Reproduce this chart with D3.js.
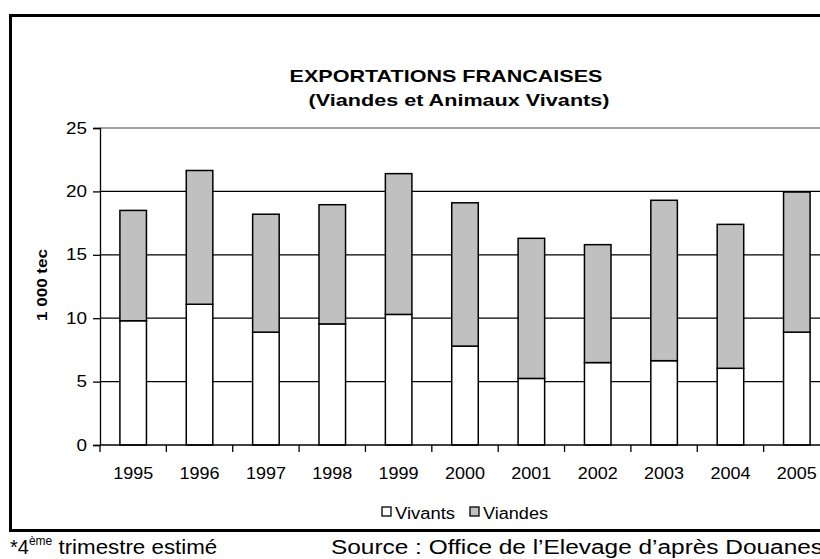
<!DOCTYPE html>
<html>
<head>
<meta charset="utf-8">
<script src="https://d3js.org/d3.v7.min.js"></script>
<style>
  body { margin: 0; background: #fff; }
  text { font-family: "Liberation Sans", Arial, sans-serif; }
</style>
</head>
<body>
<svg id="chart" width="820" height="559"></svg>
<script>
var years = ["1995", "1996", "1997", "1998", "1999", "2000", "2001", "2002", "2003", "2004", "2005"];
var vivants = [9.8, 11.1, 8.9, 9.55, 10.3, 7.8, 5.25, 6.5, 6.65, 6.05, 8.9];
var viandes = [8.7, 10.55, 9.3, 9.4, 11.1, 11.3, 11.05, 9.3, 12.65, 11.35, 11.05];
var yTicks = [0, 5, 10, 15, 20, 25];

var svg = d3.select("#chart");

// the text in the original is stretched sideways, so widths are forced with textLength
var plotLeft = 100, plotTop = 128, plotBottom = 445, plotRight = 830;

var data = years.map(function (y, i) {
    return { year: y, vivants: vivants[i], viandes: viandes[i] };
});

var xScale = d3.scaleBand().domain(years).range([plotLeft, plotRight]).paddingInner(0.6).paddingOuter(0.3),
    xTickScale = d3.scaleBand().domain(years).range([plotLeft, plotRight]),
    yScale = d3.scaleLinear().domain([0, 25]).range([plotBottom, plotTop]);

// outer frame (right side runs off the picture)
svg.append("rect")
    .attr("x", 10.5).attr("y", 15.5)
    .attr("width", 840).attr("height", 515)
    .attr("fill", "none").attr("stroke", "#000").attr("stroke-width", 3);

// title
svg.append("text")
    .attr("x", 446).attr("y", 82)
    .attr("text-anchor", "middle")
    .attr("font-size", "17px").attr("font-weight", "bold")
    .attr("textLength", 313).attr("lengthAdjust", "spacingAndGlyphs")
    .text("EXPORTATIONS FRANCAISES");
svg.append("text")
    .attr("x", 459).attr("y", 106)
    .attr("text-anchor", "middle")
    .attr("font-size", "17px").attr("font-weight", "bold")
    .attr("textLength", 301).attr("lengthAdjust", "spacingAndGlyphs")
    .text("(Viandes et Animaux Vivants)");

// gridlines
svg.append("g")
    .selectAll("line")
    .data(yTicks.filter(function (d) { return d > 0; }))
    .enter()
    .append("line")
    .attr("x1", plotLeft).attr("x2", 820)
    .attr("y1", function (d) { return yScale(d); })
    .attr("y2", function (d) { return yScale(d); })
    .attr("stroke", function (d) { return d == 25 ? "#808080" : "#000"; })
    .attr("stroke-width", 1.3);

// Y-Axis
var yAxis = svg.append("g")
    .attr("transform", "translate(" + plotLeft + ",0)")
    .call(d3.axisLeft(yScale).tickValues(yTicks).tickSize(7).tickPadding(6));
yAxis.select(".domain").attr("stroke-width", 1.3);
yAxis.selectAll(".tick line").attr("stroke-width", 1.3);
yAxis.selectAll("text")
    .attr("font-size", "16px")
    .attr("font-family", "Liberation Sans, Arial, sans-serif")
    .attr("textLength", function (d) { return d < 10 ? 10.5 : 21; })
    .attr("lengthAdjust", "spacingAndGlyphs");

svg.append("text")
    .attr("transform", "translate(47,285) rotate(-90)")
    .attr("text-anchor", "middle")
    .attr("font-size", "15px").attr("font-weight", "bold")
    .attr("textLength", 72).attr("lengthAdjust", "spacingAndGlyphs")
    .text("1 000 tec");

// BARS
var bars = svg.append("g").selectAll("g")
    .data(data)
    .enter()
    .append("g");

bars.append("rect")
    .attr("x", function (d) { return xScale(d.year); })
    .attr("width", xScale.bandwidth())
    .attr("y", function (d) { return yScale(d.vivants); })
    .attr("height", function (d) { return plotBottom - yScale(d.vivants); })
    .attr("fill", "#fff").attr("stroke", "#000").attr("stroke-width", 1.5);

bars.append("rect")
    .attr("x", function (d) { return xScale(d.year); })
    .attr("width", xScale.bandwidth())
    .attr("y", function (d) { return yScale(d.vivants + d.viandes); })
    .attr("height", function (d) { return yScale(d.vivants) - yScale(d.vivants + d.viandes); })
    .attr("fill", "#c0c0c0").attr("stroke", "#000").attr("stroke-width", 1.5);

// X-Axis
var xAxis = svg.append("g")
    .attr("transform", "translate(0," + plotBottom + ")");
xAxis.append("line")
    .attr("x1", plotLeft).attr("x2", 820)
    .attr("stroke", "#000").attr("stroke-width", 1.3);
xAxis.selectAll(".xt")
    .data(years)
    .enter()
    .append("line")
    .attr("x1", function (d) { return xTickScale(d); })
    .attr("x2", function (d) { return xTickScale(d); })
    .attr("y1", 0).attr("y2", 7)
    .attr("stroke", "#000").attr("stroke-width", 1.3);
xAxis.selectAll(".xl")
    .data(years)
    .enter()
    .append("text")
    .attr("x", function (d) { return xTickScale(d) + xTickScale.bandwidth() / 2; })
    .attr("y", 34)
    .attr("text-anchor", "middle")
    .attr("font-size", "16px")
    .attr("textLength", 40).attr("lengthAdjust", "spacingAndGlyphs")
    .text(function (d) { return d; });

// legend
var legend = [["Vivants", "#fff", 382, 60], ["Viandes", "#c0c0c0", 470, 65]];
var lg = svg.append("g").selectAll("g")
    .data(legend)
    .enter()
    .append("g");
lg.append("rect")
    .attr("x", function (d) { return d[2]; }).attr("y", 507)
    .attr("width", 9).attr("height", 9)
    .attr("fill", function (d) { return d[1]; })
    .attr("stroke", "#000").attr("stroke-width", 1.3);
lg.append("text")
    .attr("x", function (d) { return d[2] + 13; }).attr("y", 519)
    .attr("font-size", "16px")
    .attr("textLength", function (d) { return d[3]; }).attr("lengthAdjust", "spacingAndGlyphs")
    .text(function (d) { return d[0]; });

// footer
var note = svg.append("text")
    .attr("x", 10).attr("y", 554)
    .attr("font-size", "20px");
note.append("tspan").text("*4");
note.append("tspan").attr("font-size", "12px").attr("dy", -9).text("ème");
note.append("tspan").attr("dy", 9)
    .attr("textLength", 165).attr("lengthAdjust", "spacingAndGlyphs")
    .text(" trimestre estimé");

svg.append("text")
    .attr("x", 331).attr("y", 554)
    .attr("font-size", "20px")
    .attr("textLength", 492).attr("lengthAdjust", "spacingAndGlyphs")
    .text("Source : Office de l\u2019Elevage d\u2019après Douanes");
</script>
</body>
</html>
